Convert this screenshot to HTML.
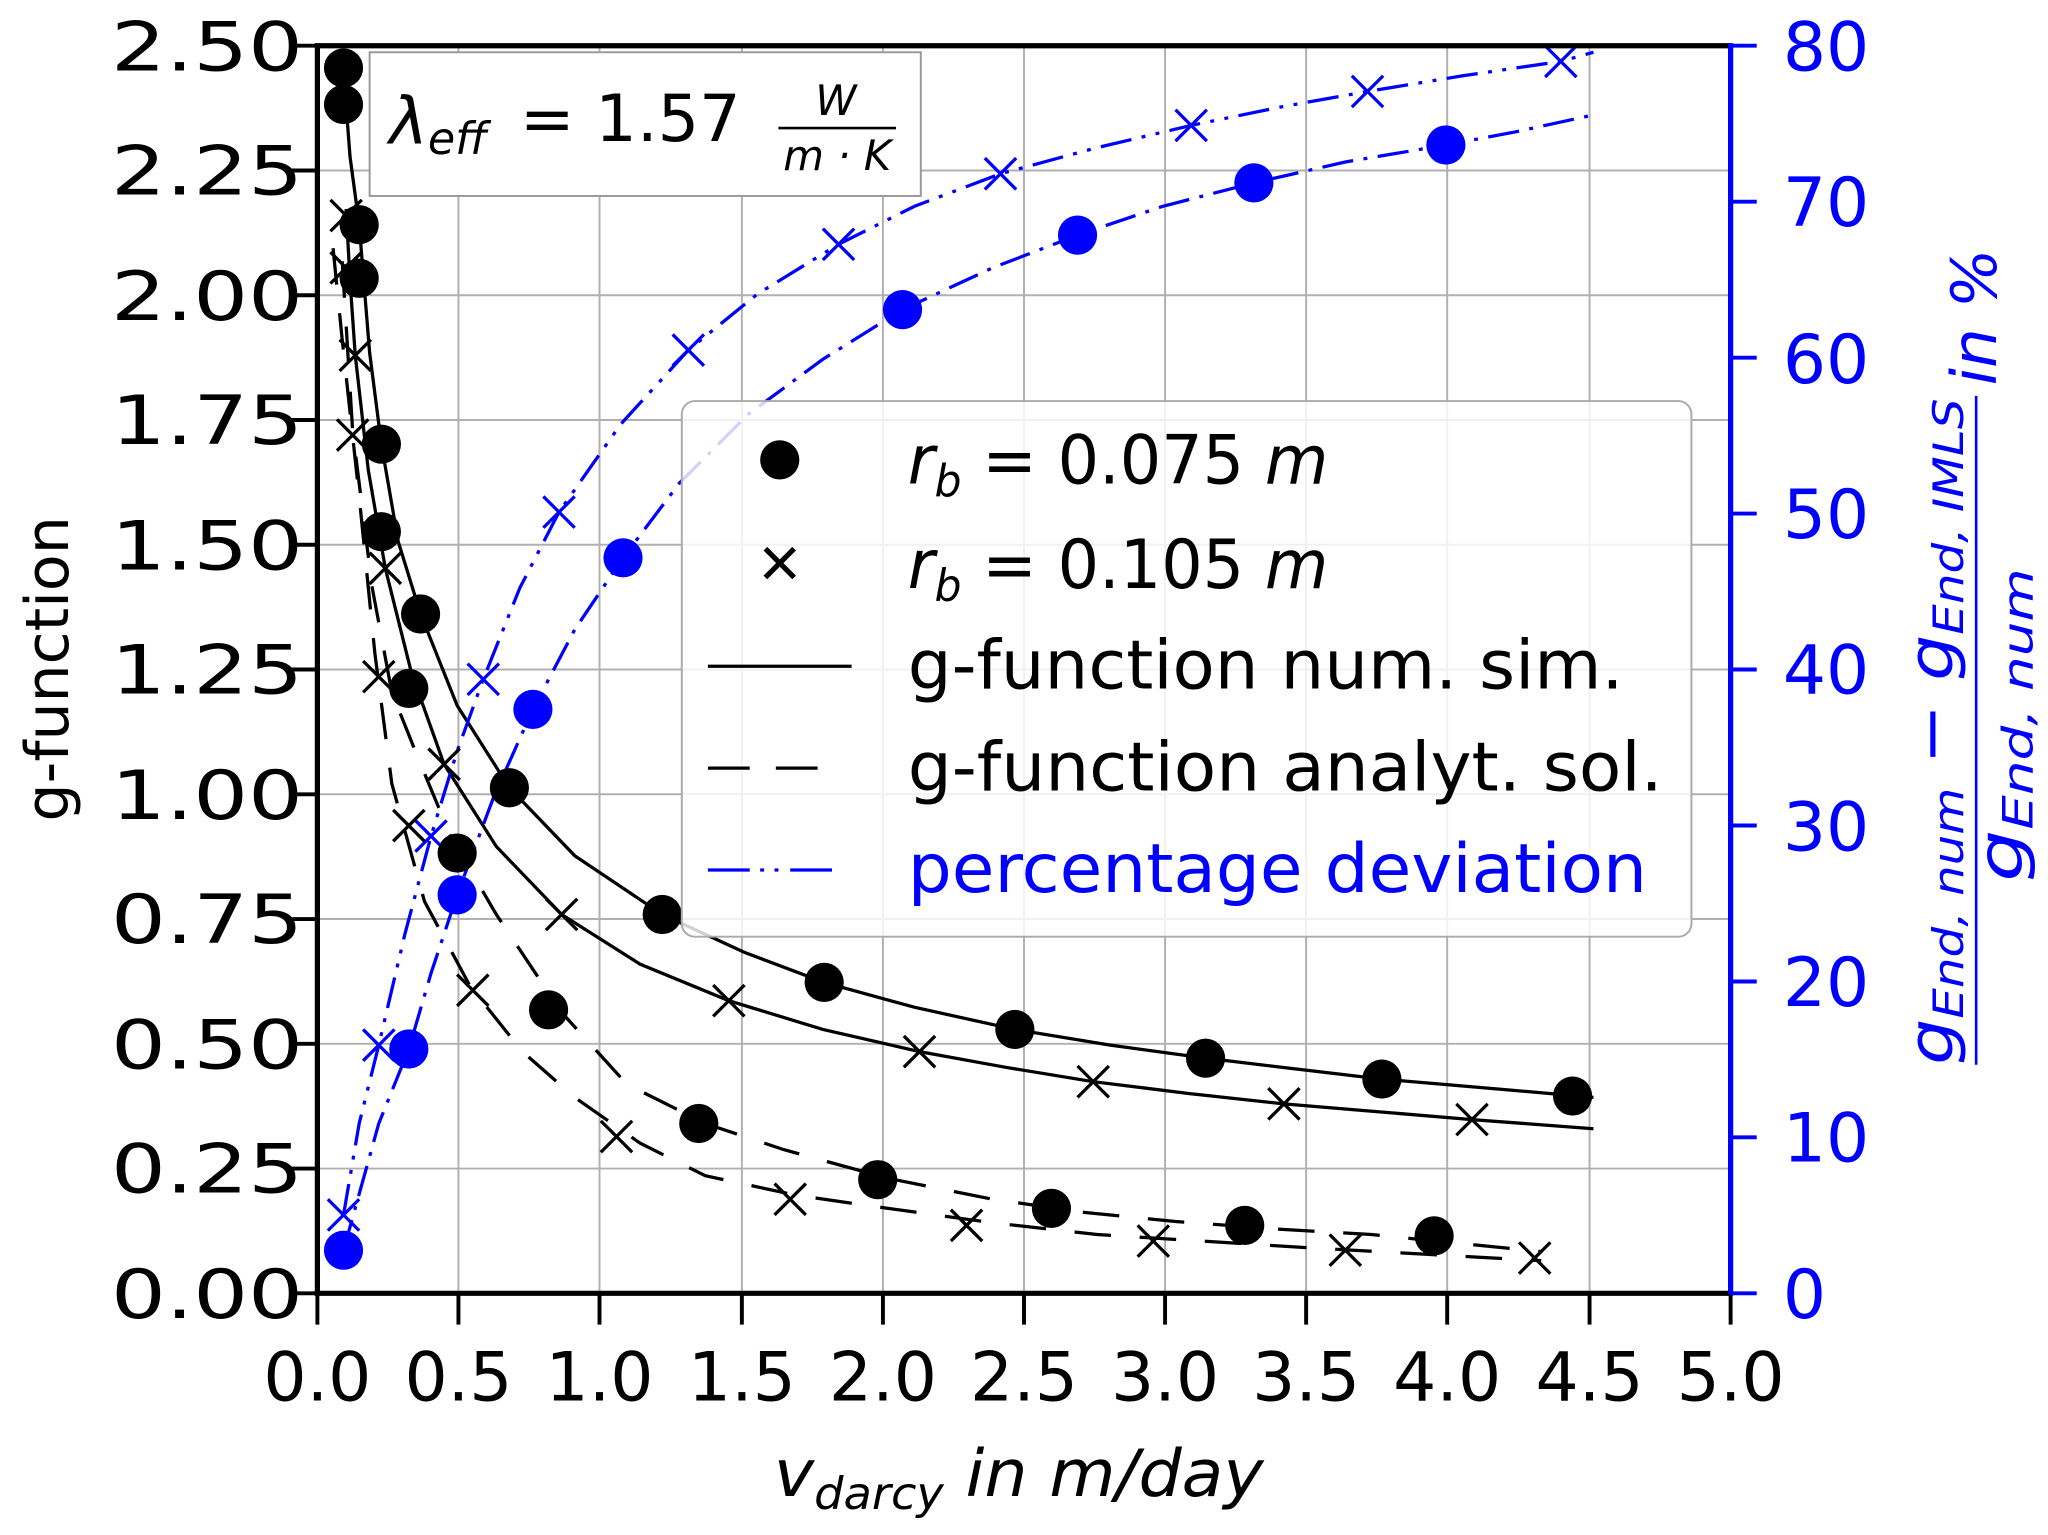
<!DOCTYPE html>
<html><head><meta charset="utf-8"><style>html,body{margin:0;padding:0;background:#fff}svg{display:block}</style></head>
<body>
<svg width="2048" height="1535" viewBox="0 0 1568 1175" preserveAspectRatio="none" xmlns="http://www.w3.org/2000/svg" font-family="DejaVu Sans, Liberation Sans, sans-serif">
<rect width="1568" height="1175" fill="#fff"/>
<g stroke="#b0b0b0" stroke-width="1.5">
<line x1="351" y1="35" x2="351" y2="990"/><line x1="459" y1="35" x2="459" y2="990"/><line x1="568" y1="35" x2="568" y2="990"/><line x1="676" y1="35" x2="676" y2="990"/><line x1="784" y1="35" x2="784" y2="990"/><line x1="892" y1="35" x2="892" y2="990"/><line x1="1000" y1="35" x2="1000" y2="990"/><line x1="1108" y1="35" x2="1108" y2="990"/><line x1="1217" y1="35" x2="1217" y2="990"/>
<line x1="243" y1="130.5" x2="1325" y2="130.5"/><line x1="243" y1="226" x2="1325" y2="226"/><line x1="243" y1="321.5" x2="1325" y2="321.5"/><line x1="243" y1="417" x2="1325" y2="417"/><line x1="243" y1="512.5" x2="1325" y2="512.5"/><line x1="243" y1="608" x2="1325" y2="608"/><line x1="243" y1="703.5" x2="1325" y2="703.5"/><line x1="243" y1="799" x2="1325" y2="799"/><line x1="243" y1="894.5" x2="1325" y2="894.5"/>
</g>
<g fill="none" stroke="#000" stroke-width="2.5">
<polyline points="263,55 268,120 275,172 283,270 292,340 305,415 322,470 350,540 390,603 440,655 507,700 570,729 631,752 700,771 777,788 850,800 923,810 990,818 1058,826 1140,833 1220,840"/>
<polyline points="265,160 268,215 272,272 282,360 295,435 315,515 340,585 380,648 430,700 490,738 558,766 630,788 704,805 770,817 837,828 910,837 983,845 1055,851 1127,857 1220,864"/>
<polyline stroke-dasharray="28,22" points="262,200 270,330 285,450 300,530 320,580 345,640 380,700 430,775 480,830 540,860 600,880 680,902 760,918 830,928 900,935 980,941 1050,945 1120,952 1180,958"/>
<polyline stroke-dasharray="28,22" points="255,190 262,260 275,380 287,500 300,600 325,690 360,755 400,805 440,840 490,875 540,900 610,915 680,925 760,936 840,945 920,950 1000,955 1090,960 1180,965"/>
</g>
<g fill="none" stroke="#0000ff" stroke-width="2.5">
<polyline stroke-dasharray="24,8,3,8" points="263,957 290,860 313,803 330,745 350,685 378,610 408,543 440,482 477,427 520,370 573,317 630,275 691,237 760,205 825,180 890,158 960,140 1030,124 1107,111 1160,101 1220,88"/>
<polyline stroke-dasharray="24,8,3,8,3,8" points="263,930 275,860 290,800 310,715 330,640 350,575 370,520 398,450 428,392 475,325 527,268 580,225 642,187 700,158 766,133 840,113 912,96 980,82 1047,70 1120,58 1195,47 1220,40"/>
</g>
<g fill="#0000ff">
<circle cx="263" cy="957" r="15"/><circle cx="313" cy="803" r="15"/><circle cx="350" cy="685" r="15"/><circle cx="408" cy="543" r="15"/><circle cx="477" cy="427" r="15"/><circle cx="691" cy="237" r="15"/><circle cx="825" cy="180" r="15"/><circle cx="960" cy="140" r="15"/><circle cx="1107" cy="111" r="15"/>
</g>
<g stroke="#0000ff" stroke-width="2.5" fill="none">
<path d="M251,918l24,24M275,918l-24,24 M278,788l24,24M302,788l-24,24 M318,628l24,24M342,628l-24,24 M358,508l24,24M382,508l-24,24 M416,380l24,24M440,380l-24,24 M515,256l24,24M539,256l-24,24 M630,175l24,24M654,175l-24,24 M754,121l24,24M778,121l-24,24 M900,84l24,24M924,84l-24,24 M1035,58l24,24M1059,58l-24,24 M1183,35l24,24M1207,35l-24,24"/>
</g>
<g fill="#000">
<circle cx="263" cy="52" r="15"/><circle cx="263" cy="80" r="15"/><circle cx="275" cy="172" r="15"/><circle cx="275" cy="213" r="15"/><circle cx="292" cy="340" r="15"/><circle cx="292" cy="407" r="15"/><circle cx="322" cy="470" r="15"/><circle cx="313" cy="527" r="15"/><circle cx="390" cy="603" r="15"/><circle cx="350" cy="653" r="15"/><circle cx="507" cy="700" r="15"/><circle cx="631" cy="752" r="15"/><circle cx="777" cy="788" r="15"/><circle cx="923" cy="810" r="15"/><circle cx="1058" cy="826" r="15"/><circle cx="1204" cy="839" r="15"/>
<circle cx="420" cy="773" r="15"/><circle cx="535" cy="860" r="15"/><circle cx="672" cy="903" r="15"/><circle cx="805" cy="925" r="15"/><circle cx="953" cy="938" r="15"/><circle cx="1098" cy="946" r="15"/>
</g>
<g stroke="#000" stroke-width="2.5" fill="none">
<path d="M253,153l24,24M277,153l-24,24 M253,193l24,24M277,193l-24,24 M260,260l24,24M284,260l-24,24 M258,321l24,24M282,321l-24,24 M283,423l24,24M307,423l-24,24 M278,506l24,24M302,506l-24,24 M328,573l24,24M352,573l-24,24 M301,620l24,24M325,620l-24,24 M418,688l24,24M442,688l-24,24 M350,746l24,24M374,746l-24,24 M546,754l24,24M570,754l-24,24 M460,858l24,24M484,858l-24,24 M692,793l24,24M716,793l-24,24 M593,906l24,24M617,906l-24,24 M825,816l24,24M849,816l-24,24 M728,926l24,24M752,926l-24,24 M971,833l24,24M995,833l-24,24 M871,938l24,24M895,938l-24,24 M1115,845l24,24M1139,845l-24,24 M1018,945l24,24M1042,945l-24,24 M1163,951l24,24M1187,951l-24,24"/>
</g>
<rect x="283" y="40" width="422" height="110" fill="#fff" stroke="#999" stroke-width="1.5"/>
<text x="298" y="110" font-size="50" font-style="italic">λ<tspan font-size="34" dy="8">eff</tspan></text>
<text x="398" y="108" font-size="50">= 1.57</text>
<text x="640" y="88" font-size="32" font-style="italic" text-anchor="middle">W</text>
<line x1="596" y1="98" x2="686" y2="98" stroke="#000" stroke-width="2"/>
<text x="641" y="130" font-size="32" font-style="italic" text-anchor="middle">m · K</text>
<rect x="522" y="307" width="773" height="410" rx="10" fill="#fff" fill-opacity="0.82" stroke="#aaa" stroke-width="1.5"/>
<circle cx="597" cy="352" r="15" fill="#000"/>
<path d="M586,420l22,22M608,420l-22,22" stroke="#000" stroke-width="4"/>
<line x1="542" y1="510" x2="652" y2="510" stroke="#000" stroke-width="2.5"/>
<path d="M542,588h32M594,588h32" stroke="#000" stroke-width="2.5"/>
<path d="M542,666h32M582,666h3M593,666h3M605,666h32" stroke="#0000ff" stroke-width="2.5"/>
<g font-size="52">
<text x="695" y="370" textLength="322" lengthAdjust="spacingAndGlyphs"><tspan font-style="italic">r</tspan><tspan font-style="italic" font-size="34" dy="10">b</tspan><tspan dy="-10"> = 0.075 </tspan><tspan font-style="italic">m</tspan></text>
<text x="695" y="450" textLength="322" lengthAdjust="spacingAndGlyphs"><tspan font-style="italic">r</tspan><tspan font-style="italic" font-size="34" dy="10">b</tspan><tspan dy="-10"> = 0.105 </tspan><tspan font-style="italic">m</tspan></text>
<text x="695" y="527" textLength="548" lengthAdjust="spacingAndGlyphs">g-function num. sim.</text>
<text x="695" y="605" textLength="578" lengthAdjust="spacingAndGlyphs">g-function analyt. sol.</text>
<text x="695" y="683" textLength="566" lengthAdjust="spacingAndGlyphs" fill="#0000ff">percentage deviation</text>
</g>
<g stroke="#000" stroke-width="4">
<line x1="243" y1="35" x2="243" y2="992"/><line x1="241" y1="35" x2="1325" y2="35"/><line x1="241" y1="990" x2="1325" y2="990"/>
</g>
<line x1="1325" y1="33" x2="1325" y2="992" stroke="#0000ff" stroke-width="4"/>
<g stroke="#000" stroke-width="3">
<path d="M243,990v24M351,990v24M459,990v24M568,990v24M676,990v24M784,990v24M892,990v24M1000,990v24M1108,990v24M1217,990v24M1325,990v24"/>
<path d="M243,35h-20M243,130.5h-20M243,226h-20M243,321.5h-20M243,417h-20M243,512.5h-20M243,608h-20M243,703.5h-20M243,799h-20M243,894.5h-20M243,990h-20"/>
</g>
<g stroke="#0000ff" stroke-width="3">
<path d="M1325,35h20M1325,154.4h20M1325,273.8h20M1325,393.1h20M1325,512.5h20M1325,631.9h20M1325,751.3h20M1325,870.6h20M1325,990h20"/>
</g>
<g font-size="52">
<text x="85" y="54" textLength="147" lengthAdjust="spacingAndGlyphs">2.50</text><text x="85" y="149" textLength="147" lengthAdjust="spacingAndGlyphs">2.25</text><text x="85" y="245" textLength="147" lengthAdjust="spacingAndGlyphs">2.00</text><text x="85" y="340" textLength="147" lengthAdjust="spacingAndGlyphs">1.75</text><text x="85" y="436" textLength="147" lengthAdjust="spacingAndGlyphs">1.50</text><text x="85" y="531" textLength="147" lengthAdjust="spacingAndGlyphs">1.25</text><text x="85" y="627" textLength="147" lengthAdjust="spacingAndGlyphs">1.00</text><text x="85" y="722" textLength="147" lengthAdjust="spacingAndGlyphs">0.75</text><text x="85" y="818" textLength="147" lengthAdjust="spacingAndGlyphs">0.50</text><text x="85" y="913" textLength="147" lengthAdjust="spacingAndGlyphs">0.25</text><text x="85" y="1009" textLength="147" lengthAdjust="spacingAndGlyphs">0.00</text>
</g>
<g font-size="52" text-anchor="middle">
<text x="243" y="1072">0.0</text><text x="351" y="1072">0.5</text><text x="459" y="1072">1.0</text><text x="568" y="1072">1.5</text><text x="676" y="1072">2.0</text><text x="784" y="1072">2.5</text><text x="892" y="1072">3.0</text><text x="1000" y="1072">3.5</text><text x="1108" y="1072">4.0</text><text x="1217" y="1072">4.5</text><text x="1325" y="1072">5.0</text>
</g>
<g font-size="52" fill="#0000ff">
<text x="1365" y="54">80</text><text x="1365" y="173">70</text><text x="1365" y="293">60</text><text x="1365" y="412">50</text><text x="1365" y="531">40</text><text x="1365" y="651">30</text><text x="1365" y="770">20</text><text x="1365" y="889">10</text><text x="1365" y="1009">0</text>
</g>
<text x="780" y="1145" font-size="50" font-style="italic" text-anchor="middle" textLength="375" lengthAdjust="spacingAndGlyphs">v<tspan font-size="34" dy="10">darcy</tspan><tspan dy="-10"> in m/day</tspan></text>
<text transform="translate(52,512) rotate(-90)" font-size="46" text-anchor="middle">g-function</text>
<g transform="translate(1513,515) rotate(-90)" fill="#0000ff" font-style="italic">
<text x="-300" y="-18" font-size="48" textLength="510" lengthAdjust="spacingAndGlyphs">g<tspan font-size="32" dy="8">End, num</tspan><tspan dy="-8" font-style="normal"> − </tspan>g<tspan font-size="32" dy="8">End, IMLS</tspan></text>
<line x1="-300" y1="0" x2="212" y2="0" stroke="#0000ff" stroke-width="2"/>
<text x="-160" y="35" font-size="48" textLength="240" lengthAdjust="spacingAndGlyphs">g<tspan font-size="32" dy="8">End, num</tspan></text>
<text x="220" y="15" font-size="48">in %</text>
</g>
</svg>
</body></html>
